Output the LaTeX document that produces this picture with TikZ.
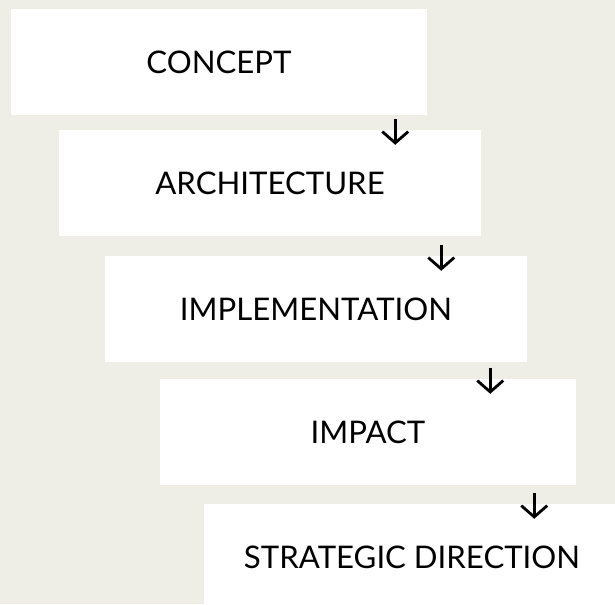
\documentclass[tikz,border=0pt]{standalone}
\usepackage{fontspec}
\setmainfont{Lato}
\usepackage{tikz}
\usetikzlibrary{positioning,calc,arrows.meta}
\definecolor{bgbeige}{HTML}{EEEDE6}
\tikzstyle{stage}=[rectangle, fill=white, inner sep=0pt, minimum width=12.48cm, minimum height=3.18cm, font=\fontsize{26.6}{30}\selectfont]
\tikzstyle{down}=[line width=2.4pt, -{Straight Barb[length=0.34cm, width=0.78cm]}]

\begin{document}
\begin{tikzpicture}
	\fill[bgbeige] (0,0) rectangle (18.45,-18.12);
	\clip (0,0) rectangle (18.45,-18.12);
	\node[stage] (concept) at (6.57,-1.86) {CONCEPT};
	\node[stage, minimum width=12.66cm] (arch) at (8.10,-5.49) {ARCHITECTURE};
	\node[stage, minimum width=12.66cm] (impl) at (9.48,-9.27) {IMPLEMENTATION};
	\node[stage] (impact) at (11.04,-12.96) {IMPACT};
	\node[stage] (strat) at (12.36,-16.71) {STRATEGIC DIRECTION};
	\coordinate (d1a) at ($(arch.north east)+(-2.58,0.33)$);
	\coordinate (d1b) at ($(arch.north east)+(-2.58,-0.45)$);
	\coordinate (d2a) at ($(impl.north east)+(-2.58,0.33)$);
	\coordinate (d2b) at ($(impl.north east)+(-2.58,-0.45)$);
	\coordinate (d3a) at ($(impact.north east)+(-2.58,0.33)$);
	\coordinate (d3b) at ($(impact.north east)+(-2.58,-0.45)$);
	\coordinate (d4a) at ($(strat.north east)+(-2.58,0.33)$);
	\coordinate (d4b) at ($(strat.north east)+(-2.58,-0.45)$);
	\draw[down] (d1a) -- (d1b);
	\draw[down] (d2a) -- (d2b);
	\draw[down] (d3a) -- (d3b);
	\draw[down] (d4a) -- (d4b);
\end{tikzpicture}
\end{document}
